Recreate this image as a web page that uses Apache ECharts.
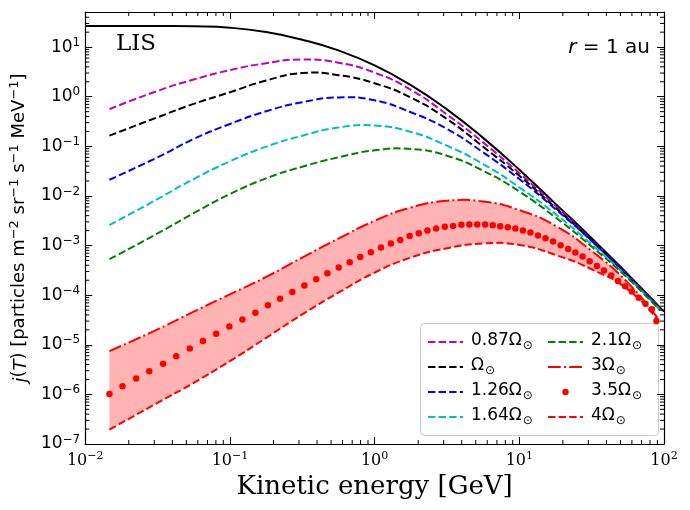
<!DOCTYPE html>
<html><head><meta charset="utf-8">
<script src="https://cdn.jsdelivr.net/npm/echarts@6/dist/echarts.min.js"></script>
<style>html,body{margin:0;padding:0;background:#fff}#c{width:690px;height:510px}</style>
</head><body><div id="c"></div>
<script>
// ---- data (GeV, particles m^-2 sr^-1 s^-1 MeV^-1) ----
const energyGrid = [0.0147,0.0316,0.0562,0.1,0.178,0.316,0.562,1,1.78,3.16,5.62,10,17.8,31.6,56.2,94];
const redGrid    = [0.0147,0.0316,0.0562,0.1,0.178,0.316,0.562,1,1.78,3.16,5.62,10,17.8,31.6,56.2,90];
const lisEnergy  = [0.01,0.0147,0.0316,0.0562,0.1,0.178,0.316,0.562,1,1.78,3.16,5.62,10,17.8,31.6,56.2,100];
const lisFlux    = [26.5,26.5,26.5,26.2,24.6,20.1,14.1,8.57,4.27,1.71,0.556,0.148,0.0338,6.92e-3,1.41e-3,2.65e-4,4.65e-5];
const flux087 = [0.562,1.31,2.22,3.44,4.74,5.64,4.85,3.06,1.38,0.438,0.120,0.0288,6.31e-3,1.29e-3,2.51e-4,5.37e-5];
const flux100 = [0.164,0.385,0.716,1.23,2.12,3.00,2.72,1.87,0.96,0.356,0.0984,0.0255,5.75e-3,1.26e-3,2.45e-4,5.25e-5];
const flux126 = [0.0212,0.060,0.141,0.282,0.509,0.774,0.965,0.845,0.486,0.224,0.0757,0.0219,5.42e-3,1.24e-3,2.40e-4,5.13e-5];
const flux164 = [2.58e-3,8.63e-3,0.0219,0.0498,0.0984,0.164,0.240,0.262,0.195,0.103,0.0440,0.0149,4.30e-3,1.06e-3,2.29e-4,5.0e-5];
const flux210 = [5.30e-4,1.75e-3,4.50e-3,0.0109,0.0226,0.0388,0.060,0.0830,0.0880,0.0647,0.0322,0.0123,3.68e-3,9.55e-4,2.19e-4,4.9e-5];
const flux300 = [7.45e-6,2.04e-5,4.65e-5,1.04e-4,2.33e-4,5.73e-4,1.38e-3,3.15e-3,5.86e-3,7.98e-3,7.74e-3,5.18e-3,2.49e-3,7.80e-4,1.79e-4,3.51e-5];
const flux400 = [1.95e-7,6.73e-7,1.71e-6,4.68e-6,1.38e-5,4.10e-5,1.12e-4,2.85e-4,5.73e-4,8.83e-4,1.10e-3,1.03e-3,6.47e-4,3.33e-4,1.31e-4,3.25e-5];
const dotEnergy = [0.0147,0.0181,0.0225,0.0277,0.0345,0.0425,0.0528,0.0651,0.0804,0.0991,0.122,0.150,0.183,0.222,0.270,0.327,0.395,0.472,0.565,0.673,0.796,0.942,1.107,1.295,1.504,1.748,2.019,2.318,2.661,3.055,3.487,3.979,4.512,5.119,5.808,6.55,7.38,8.33,9.39,10.59,11.94,13.46,15.18,17.12,19.30,21.77,24.39,27.35,30.64,34.35,38.49,43.15,48.08,53.87,60.0,66.9,74.5,82.5,88.7];
const dotFlux = [1.02e-6,1.46e-6,2.09e-6,2.94e-6,4.13e-6,5.90e-6,8.43e-6,1.19e-5,1.67e-5,2.34e-5,3.25e-5,4.43e-5,6.24e-5,8.50e-5,1.16e-4,1.56e-4,2.09e-4,2.76e-4,3.60e-4,4.61e-4,5.90e-4,7.33e-4,9.12e-4,1.10e-3,1.30e-3,1.55e-3,1.77e-3,2.01e-3,2.20e-3,2.38e-3,2.49e-3,2.62e-3,2.66e-3,2.66e-3,2.66e-3,2.58e-3,2.46e-3,2.35e-3,2.20e-3,2.01e-3,1.83e-3,1.59e-3,1.41e-3,1.20e-3,1.02e-3,8.57e-4,7.22e-4,6.00e-4,4.83e-4,3.88e-4,3.13e-4,2.48e-4,1.93e-4,1.51e-4,1.18e-4,8.89e-5,6.73e-5,5.18e-5,3.01e-5];
const legendCol1 = ['0.87Ω','Ω','1.26Ω','1.64Ω'];
const legendCol2 = ['2.1Ω','3Ω','3.5Ω','4Ω'];
const xMin = 0.01, xMax = 100, yMin = 1e-7, yMax = 51;
const xMinorTicks = [], yMinorTicks = [];
[-2,-1,0,1].forEach(e => { for (let m = 2; m <= 9; m++) xMinorTicks.push(m * Math.pow(10, e)); });
[-7,-6,-5,-4,-3,-2,-1,0,1].forEach(e => { for (let m = 2; m <= 9; m++) { const v = m * Math.pow(10, e); if (v < yMax) yMinorTicks.push(v); } });

const zip = (a, b) => a.map((v, i) => [v, b[i]]);
const SANS = 'DejaVu Sans', SERIF = 'DejaVu Serif';
const RED = '#ff0000';
const dash = [7.4, 3.2], dashDot = [12.8, 3.2, 2, 3.2];

// ---- smooth path through pixel points (unconstrained bezier smoothing) ----
function controlPoints(pts, s) {
  const n = pts.length, cps = [];
  for (let i = 0; i < n; i++) {
    const p = pts[i];
    if (i === 0 || i === n - 1) { cps.push([p, p]); continue; }
    const a = pts[i - 1], b = pts[i + 1];
    const vx = (b[0] - a[0]) * s, vy = (b[1] - a[1]) * s;
    let d0 = Math.hypot(p[0] - a[0], p[1] - a[1]), d1 = Math.hypot(b[0] - p[0], b[1] - p[1]);
    const sum = d0 + d1; if (sum) { d0 /= sum; d1 /= sum; }
    cps.push([[p[0] - vx * d0, p[1] - vy * d0], [p[0] + vx * d1, p[1] + vy * d1]]);
  }
  return cps;
}
const f = p => p[0].toFixed(2) + ' ' + p[1].toFixed(2);
function forward(pts, cps, cmd) {
  let d = cmd + f(pts[0]);
  for (let i = 1; i < pts.length; i++) d += ' C' + f(cps[i - 1][1]) + ' ' + f(cps[i][0]) + ' ' + f(pts[i]);
  return d;
}
function backward(pts, cps, cmd) {
  const n = pts.length;
  let d = cmd + f(pts[n - 1]);
  for (let i = n - 1; i > 0; i--) d += ' C' + f(cps[i][0]) + ' ' + f(cps[i - 1][1]) + ' ' + f(pts[i - 1]);
  return d;
}
const SM = 0.5;
function curve(xs, ys, style, z) {
  return { type: 'custom', silent: true, clip: true, z: z, xAxisIndex: 0, yAxisIndex: 0,
    data: [[xs[0], ys[0]]], encode: { x: 0, y: 1 },
    renderItem: function (params, api) {
      const pts = xs.map((x, i) => api.coord([x, ys[i]]));
      return { type: 'path', shape: { pathData: forward(pts, controlPoints(pts, SM), 'M') },
        style: Object.assign({ fill: 'none', lineWidth: 2 }, style) };
    } };
}
function band(xs, upper, lower) {
  return { type: 'custom', silent: true, clip: true, z: 1, xAxisIndex: 0, yAxisIndex: 0,
    data: [[xs[0], upper[0]]], encode: { x: 0, y: 1 },
    renderItem: function (params, api) {
      const pu = xs.map((x, i) => api.coord([x, upper[i]]));
      const pl = xs.map((x, i) => api.coord([x, lower[i]]));
      const d = forward(pu, controlPoints(pu, SM), 'M') + ' ' + backward(pl, controlPoints(pl, SM), 'L') + ' Z';
      return { type: 'path', shape: { pathData: d }, style: { fill: '#ffb3b3', stroke: 'none' } };
    } };
}
function legendOnly(name, color, type) {
  return { name, type: 'line', data: [], symbol: 'none', showSymbol: false, lineStyle: { color, width: 2, type }, itemStyle: { color } };
}

function powLabel(v) {
  const l = Math.log10(v), e = Math.round(l);
  if (Math.abs(l - e) > 1e-6) return '';
  return '{b|10}{s|' + (e < 0 ? '−' : '') + Math.abs(e) + '}';
}
const axisCommon = {
  z: 10,
  axisLine: { show: true, onZero: false, lineStyle: { color: '#000', width: 1.2 } },
  axisTick: { show: true, inside: true, length: 7, lineStyle: { color: '#000', width: 1 } },
  splitLine: { show: false }, minorTick: { show: false }
};
const tickSeries = {
  type: 'custom', silent: true, clip: false, z: 11, xAxisIndex: 0, yAxisIndex: 0,
  data: xMinorTicks.map(v => [v, 1, 0]).concat(yMinorTicks.map(v => [1, v, 1])),
  encode: { x: 0, y: 1 },
  renderItem: function (params, api) {
    const kind = api.value(2);
    const st = { stroke: '#000', lineWidth: 1 };
    if (kind === 0) {
      const v = api.value(0), pb = api.coord([v, yMin]), pt = api.coord([v, yMax]);
      return { type: 'group', children: [
        { type: 'line', shape: { x1: pb[0], y1: pb[1], x2: pb[0], y2: pb[1] - 4 }, style: st },
        { type: 'line', shape: { x1: pt[0], y1: pt[1], x2: pt[0], y2: pt[1] + 4 }, style: st } ] };
    } else {
      const v = api.value(1), pl = api.coord([xMin, v]), pr = api.coord([xMax, v]);
      return { type: 'group', children: [
        { type: 'line', shape: { x1: pl[0], y1: pl[1], x2: pl[0] + 4, y2: pl[1] }, style: st },
        { type: 'line', shape: { x1: pr[0], y1: pr[1], x2: pr[0] - 4, y2: pr[1] }, style: st } ] };
    }
  }
};
const legendCommon = {
  orient: 'vertical', itemWidth: 35, itemHeight: 8, itemGap: 3, padding: 0, selectedMode: false,
  formatter: name => '{a|' + name + '}{s|⊙}',
  textStyle: { color: '#000', fontFamily: SANS, fontSize: 17,
    rich: { a: { fontFamily: SANS, fontSize: 17, lineHeight: 20, verticalAlign: 'top', padding: [0, 0, 0, 3] },
            s: { fontFamily: SANS, fontSize: 12, lineHeight: 12, verticalAlign: 'bottom', padding: [10, 0, 0, 1] } } }
};
const legendItem = n => ({ name: n, itemStyle: { opacity: n === '3.5Ω' ? 1 : 0 } });

const chart = echarts.init(document.getElementById('c'), null, { renderer: 'canvas' });
chart.setOption({
  animation: false,
  backgroundColor: '#fff',
  grid: { left: 85, right: 26, top: 12, bottom: 66, containLabel: false },
  xAxis: [
    Object.assign({ type: 'log', min: xMin, max: xMax, position: 'bottom',
      axisLabel: { show: true, margin: 7, showMinLabel: true, showMaxLabel: true, formatter: powLabel,
        color: '#000', rich: { b: { fontFamily: SERIF, fontSize: 16, lineHeight: 20, color: '#000' },
                               s: { fontFamily: SERIF, fontSize: 11, lineHeight: 11, verticalAlign: 'top', color: '#000' } } },
      name: 'Kinetic energy [GeV]', nameLocation: 'middle', nameGap: 26,
      nameTextStyle: { fontFamily: SERIF, fontSize: 26, color: '#000' } }, axisCommon),
    Object.assign({ type: 'log', min: xMin, max: xMax, position: 'top', axisLabel: { show: false } }, axisCommon)
  ],
  yAxis: [
    Object.assign({ type: 'log', min: yMin, max: yMax, position: 'left',
      axisLabel: { show: true, margin: 5, showMinLabel: true, showMaxLabel: true, formatter: powLabel,
        color: '#000', rich: { b: { fontFamily: SANS, fontSize: 17, lineHeight: 21, color: '#000' },
                               s: { fontFamily: SANS, fontSize: 12, lineHeight: 12, verticalAlign: 'top', color: '#000' } } },
      name: '{i|j}({i|T}) [particles m{s|−2} sr{s|−1} s{s|−1} MeV{s|−1}]', nameLocation: 'middle', nameGap: 41, nameRotate: 90,
      nameTextStyle: { fontFamily: SANS, fontSize: 18, color: '#000',
        rich: { i: { fontFamily: SANS, fontSize: 18, fontStyle: 'italic', lineHeight: 22, verticalAlign: 'bottom' },
                s: { fontFamily: SANS, fontSize: 13, lineHeight: 13, verticalAlign: 'top' } } } }, axisCommon),
    Object.assign({ type: 'log', min: yMin, max: yMax, position: 'right', axisLabel: { show: false } }, axisCommon)
  ],
  legend: [
    Object.assign({ data: legendCol1.map(legendItem), left: 427, top: 330 }, legendCommon),
    Object.assign({ data: legendCol2.map(legendItem), left: 547, top: 330 }, legendCommon)
  ],
  graphic: [
    { type: 'rect', z: 3, shape: { x: 420.5, y: 323.5, width: 238, height: 112, r: 4 },
      style: { fill: 'rgba(255,255,255,0.8)', stroke: '#cccccc', lineWidth: 1 } },
    { type: 'text', z: 6, style: { text: 'LIS', x: 116, y: 44, fontFamily: SERIF, fontSize: 23, fill: '#000', verticalAlign: 'middle' } },
    { type: 'text', z: 6, style: { text: '{i|r} = 1 au', x: 650, y: 48, align: 'right', verticalAlign: 'middle',
        fontFamily: SANS, fontSize: 20, fill: '#000', rich: { i: { fontFamily: SANS, fontSize: 20, fontStyle: 'italic' } } } }
  ],
  series: [
    band(redGrid, flux300, flux400),
    curve(lisEnergy, lisFlux, { stroke: '#000' }, 3),
    curve(energyGrid, flux087, { stroke: '#bf00bf', lineDash: dash }, 3),
    curve(energyGrid, flux100, { stroke: '#000000', lineDash: dash }, 3),
    curve(energyGrid, flux126, { stroke: '#0000ff', lineDash: dash }, 3),
    curve(energyGrid, flux164, { stroke: '#00bfbf', lineDash: dash }, 3),
    curve(energyGrid, flux210, { stroke: '#008000', lineDash: dash }, 3),
    curve(redGrid, flux300, { stroke: RED, lineDash: dashDot }, 3),
    curve(redGrid, flux400, { stroke: RED, lineDash: dash }, 3),
    { name: '3.5Ω', type: 'line', data: zip(dotEnergy, dotFlux), symbol: 'circle', symbolSize: 6.5, showSymbol: true,
      lineStyle: { opacity: 0, width: 0 }, itemStyle: { color: RED }, z: 4 },
    legendOnly('0.87Ω', '#bf00bf', dash),
    legendOnly('Ω', '#000000', dash),
    legendOnly('1.26Ω', '#0000ff', dash),
    legendOnly('1.64Ω', '#00bfbf', dash),
    legendOnly('2.1Ω', '#008000', dash),
    legendOnly('3Ω', RED, dashDot),
    legendOnly('4Ω', RED, dash),
    tickSeries
  ]
});
</script></body></html>
